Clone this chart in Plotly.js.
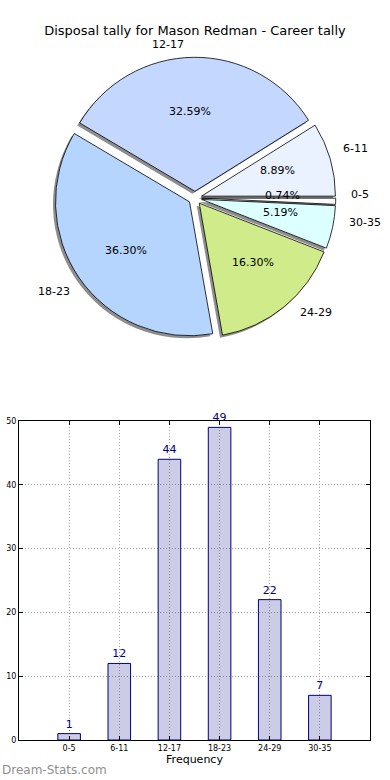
<!DOCTYPE html>
<html>
<head>
<meta charset="utf-8">
<script src="https://cdn.plot.ly/plotly-3.0.1.min.js"></script>
<style>html,body{margin:0;padding:0;background:#fff;}#chart{width:390px;height:780px;}</style>
</head>
<body>
<div id="chart"></div>
<script>
// ---- data ----
var categories = ["0-5", "6-11", "12-17", "18-23", "24-29", "30-35"];
var tally = [1, 12, 44, 49, 22, 7];
var sliceColors = ["#ffffff", "#eaf2ff", "#c4d8ff", "#b5d5ff", "#d0eb8a", "#dcffff"];
var chartTitle = "Disposal tally for Mason Redman - Career tally";
var xLabel = "Frequency";
var watermark = "Dream-Stats.com";

// ---- geometry (page pixels) ----
var W = 390, H = 780;
var pieCx = 195, pieCy = 198, pieR = 134, pullFrac = 0.05;
var shadowDx = -2.5, shadowDy = 2.5;
var FONT = "DejaVu Sans, sans-serif";

function px2x(p) { return p / W; }
function px2y(p) { return 1 - p / H; }
var half = pieR * (1 + pullFrac);
function domainAt(dx, dy) {
  return {
    x: [px2x(pieCx + dx - half), px2x(pieCx + dx + half)],
    y: [px2y(pieCy + dy + half), px2y(pieCy + dy - half)]
  };
}
var pulls = categories.map(function () { return pullFrac; });

var shadowPie = {
  type: "pie", labels: categories, values: tally, sort: false,
  direction: "counterclockwise", rotation: 90, pull: pulls,
  domain: domainAt(shadowDx, shadowDy),
  marker: { colors: categories.map(function () { return "#8e8e8e"; }), line: { width: 0 } },
  textinfo: "none", hoverinfo: "skip", showlegend: false
};
var mainPie = {
  type: "pie", labels: categories, values: tally, sort: false,
  direction: "counterclockwise", rotation: 90, pull: pulls,
  domain: domainAt(0, 0),
  marker: { colors: sliceColors, line: { color: "#000000", width: 0.8 } },
  textinfo: "none", hoverinfo: "skip", showlegend: false
};

// labels placed like matplotlib (start at 3 o'clock, counterclockwise)
var total = tally.reduce(function (a, b) { return a + b; }, 0);
var annotations = [];
var cum = 0;
for (var i = 0; i < tally.length; i++) {
  var t1 = cum / total * 360;
  cum += tally[i];
  var t2 = cum / total * 360;
  var mid = (t1 + t2) / 2 * Math.PI / 180;
  var c = Math.cos(mid), s = Math.sin(mid);
  var ox = pieCx + pullFrac * pieR * c, oy = pieCy - pullFrac * pieR * s;
  var lx = ox + 1.1 * pieR * c, ly = oy - 1.1 * pieR * s;
  annotations.push({
    xref: "paper", yref: "paper", x: px2x(lx), y: px2y(ly),
    text: categories[i], showarrow: false,
    xanchor: lx > pieCx ? "left" : "right", yanchor: "middle",
    font: { family: FONT, size: 11, color: "#000" }
  });
  var ptx = ox + 0.6 * pieR * c, pty = oy - 0.6 * pieR * s;
  annotations.push({
    xref: "paper", yref: "paper", x: px2x(ptx), y: px2y(pty),
    text: (tally[i] / total * 100).toFixed(2) + "%", showarrow: false,
    xanchor: "center", yanchor: "middle",
    font: { family: FONT, size: 11, color: "#000" }
  });
}
annotations.push({
  xref: "paper", yref: "paper", x: 0, y: px2y(770),
  text: watermark, showarrow: false,
  xanchor: "left", yanchor: "middle",
  font: { family: FONT, size: 12, color: "#8f8f8f" }
});

var bars = {
  type: "bar", x: categories, y: tally, width: 0.45,
  marker: { color: "rgba(0,0,128,0.2)", line: { color: "#000080", width: 1 } },
  text: tally.map(String), textposition: "outside", cliponaxis: false,
  constraintext: "none",
  textfont: { family: FONT, size: 11, color: "#000080" },
  xaxis: "x", yaxis: "y", hoverinfo: "skip", showlegend: false
};

var layout = {
  width: W, height: H,
  margin: { l: 0, r: 0, t: 0, b: 0 },
  paper_bgcolor: "#ffffff", plot_bgcolor: "#ffffff",
  showlegend: false, hovermode: false,
  title: {
    text: chartTitle, x: 0.5, xanchor: "center",
    y: 1 - 30 / H, yanchor: "middle",
    font: { family: FONT, size: 13, color: "#000" }
  },
  xaxis: {
    domain: [px2x(19), px2x(370)],
    type: "category", range: [-1, 6],
    showgrid: true, gridcolor: "#a8a8a8", griddash: "1px,2px", gridwidth: 1,
    showline: true, linecolor: "#000", linewidth: 1, mirror: "ticks",
    ticks: "inside", ticklen: 4, tickcolor: "#000",
    tickfont: { family: FONT, size: 8, color: "#000" },
    title: { text: xLabel, standoff: 3, font: { family: FONT, size: 11, color: "#000" } },
    zeroline: false, fixedrange: true
  },
  yaxis: {
    domain: [px2y(740), px2y(421)],
    range: [0, 50], dtick: 10,
    showgrid: true, gridcolor: "#a8a8a8", griddash: "1px,2px", gridwidth: 1,
    showline: true, linecolor: "#000", linewidth: 1, mirror: "ticks",
    ticks: "inside", ticklen: 4, tickcolor: "#000",
    tickfont: { family: FONT, size: 8, color: "#000" },
    zeroline: false, fixedrange: true
  },
  annotations: annotations
};

Plotly.newPlot("chart", [shadowPie, mainPie, bars], layout, { staticPlot: true, displayModeBar: false });
</script>
</body>
</html>
